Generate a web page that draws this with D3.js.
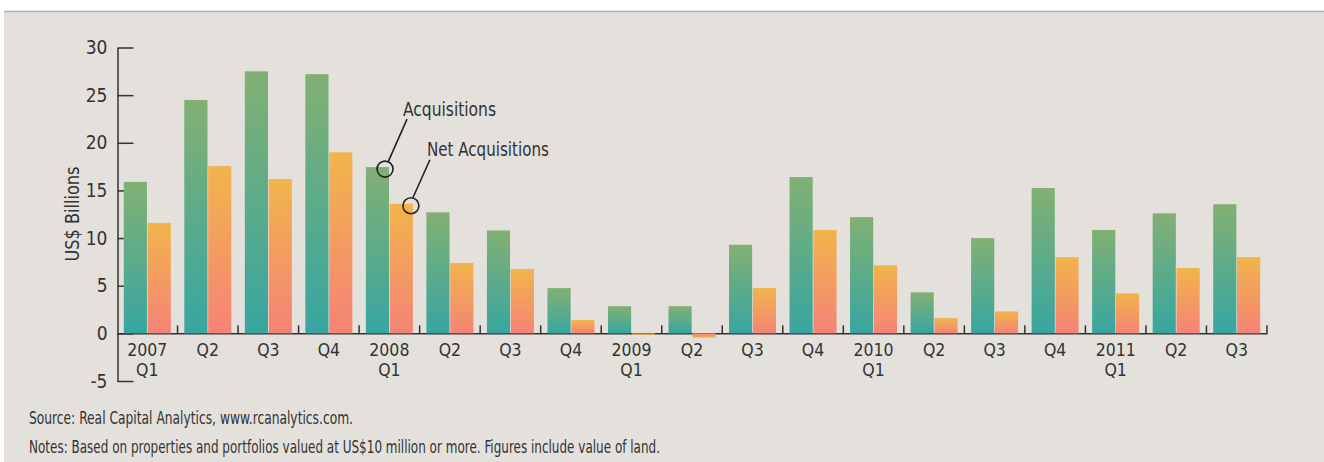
<!DOCTYPE html>
<html>
<head>
<meta charset="utf-8">
<script src="https://cdn.jsdelivr.net/npm/d3@7"></script>
<style>
  body { margin: 0; background: #fff; }
  svg text { font-family: "Liberation Sans Narrow", "Arial Narrow", "DejaVu Sans Condensed", sans-serif; fill: #333; }
</style>
</head>
<body>
<svg id="chart" width="1324" height="462"></svg>
<script>
// quarterly US commercial property investment, US$ billions
var quarters = ["2007 Q1","2007 Q2","2007 Q3","2007 Q4","2008 Q1","2008 Q2","2008 Q3","2008 Q4",
  "2009 Q1","2009 Q2","2009 Q3","2009 Q4","2010 Q1","2010 Q2","2010 Q3","2010 Q4","2011 Q1","2011 Q2","2011 Q3"];
var tickLabels = ["2007|Q1","Q2","Q3","Q4","2008|Q1","Q2","Q3","Q4","2009|Q1","Q2","Q3","Q4",
  "2010|Q1","Q2","Q3","Q4","2011|Q1","Q2","Q3"];
var acquisitions = [15.9, 24.5, 27.5, 27.2, 17.45, 12.7, 10.8, 4.75, 2.85, 2.85, 9.3, 16.4, 12.2, 4.3, 10.0, 15.25, 10.85, 12.6, 13.55];
var netAcquisitions = [11.6, 17.55, 16.2, 19.0, 13.6, 7.4, 6.75, 1.4, -0.15, -0.45, 4.75, 10.85, 7.15, 1.6, 2.3, 8.0, 4.2, 6.85, 8.0];
var yTicks = [-5, 0, 5, 10, 15, 20, 25, 30];
var seriesNames = ["Acquisitions", "Net Acquisitions"];

var svg = d3.select("#chart");

// panel background + top rule
svg.append("rect").attr("x", 4).attr("y", 12).attr("width", 1320).attr("height", 450).attr("fill", "#e4e1dd");
svg.append("line").attr("x1", 4).attr("x2", 1324).attr("y1", 11.5).attr("y2", 11.5)
  .attr("stroke", "#b3aea7").attr("stroke-width", 1.5);

var defs = svg.append("defs");
function grad(id, top, bottom) {
  var g = defs.append("linearGradient").attr("id", id).attr("x1", 0).attr("y1", 0).attr("x2", 0).attr("y2", 1);
  g.append("stop").attr("offset", "0%").attr("stop-color", top);
  g.append("stop").attr("offset", "100%").attr("stop-color", bottom);
}
grad("gGreen", "#82b073", "#37a6a1");
grad("gOrange", "#f1b54b", "#f58376");
grad("gOrangeNeg", "#f58376", "#f1b54b");

var x0 = d3.scaleBand().domain(quarters).range([117, 1267]).paddingInner(0.223).paddingOuter(0.112);
var x1 = d3.scaleBand().domain(seriesNames).range([0, x0.bandwidth()]).paddingInner(0.03);
var y = d3.scaleLinear().domain([-5, 30]).range([381, 47.5]);

var rows = quarters.map(function(q, i) {
  return { q: q, label: tickLabels[i], vals: [acquisitions[i], netAcquisitions[i]] };
});

// y axis
var yAxis = svg.append("g")
  .attr("transform", "translate(117.5,0)")
  .call(d3.axisLeft(y).tickValues(yTicks).tickSize(-16).tickPadding(10).tickSizeOuter(0)
    .tickFormat(function(d) { return String(d); }));
yAxis.attr("font-family", null);
yAxis.select(".domain").attr("stroke", "#333").attr("stroke-width", 1.5);
yAxis.selectAll(".tick line").attr("stroke", "#333").attr("stroke-width", 1.5);
yAxis.selectAll(".tick text").attr("font-size", "19px").attr("fill", "#333");

svg.append("text")
  .attr("transform", "translate(79,214) rotate(-90)")
  .attr("text-anchor", "middle")
  .attr("font-size", "20px")
  .attr("textLength", 95).attr("lengthAdjust", "spacingAndGlyphs")
  .text("US$ Billions");

// x axis line
var xAxis = svg.append("g")
  .attr("transform", "translate(0," + y(0) + ")")
  .call(d3.axisBottom(x0).tickSize(0).tickSizeOuter(0).tickFormat(""));
xAxis.attr("font-family", null);
xAxis.select(".domain").attr("stroke", "#333").attr("stroke-width", 1.5);

// separators between quarters
var step = x0.step();
function sep(d) { return x0(d) + x0.bandwidth() + (step - x0.bandwidth()) / 2; }
svg.selectAll(".qtick")
  .data(quarters)
  .enter().append("line")
  .attr("class", "qtick")
  .attr("x1", sep).attr("x2", sep)
  .attr("y1", y(0))
  .attr("y2", y(0) - 8)
  .attr("stroke", "#333").attr("stroke-width", 1.5);

// two-line quarter labels
rows.forEach(function(d) {
  d.label.split("|").forEach(function(p, k) {
    svg.append("text")
      .attr("class", "xlab")
      .attr("text-anchor", "middle")
      .attr("font-size", "17.5px")
      .attr("x", x0(d.q) + x0.bandwidth() / 2)
      .attr("y", 356 + k * 20)
      .text(p);
  });
});

// bars
var groups = svg.selectAll(".grp")
  .data(rows)
  .enter().append("g")
  .attr("class", "grp")
  .attr("transform", function(d) { return "translate(" + x0(d.q) + ",0)"; });

groups.selectAll("rect")
  .data(function(d) { return d.vals.map(function(v, k) { return { k: k, v: v }; }); })
  .enter().append("rect")
  .attr("x", function(d) { return x1(seriesNames[d.k]); })
  .attr("width", x1.bandwidth())
  .attr("y", function(d) { return d.v >= 0 ? y(d.v) : y(0); })
  .attr("height", function(d) { return Math.max(Math.abs(y(d.v) - y(0)), 1); })
  .attr("fill", function(d) {
    if (d.k === 0) return "url(#gGreen)";
    return d.v >= 0 ? "url(#gOrange)" : "url(#gOrangeNeg)";
  });

// callouts
function callout(q, k, cdx, lineFrom, lineTo, textPos, label, len) {
  var i = quarters.indexOf(q);
  var v = k === 0 ? acquisitions[i] : netAcquisitions[i];
  var cx = x0(q) + x1(seriesNames[k]) + x1.bandwidth() + cdx;
  var cy = y(v) + 2;
  svg.append("circle").attr("cx", cx).attr("cy", cy).attr("r", 8)
    .attr("fill", "none").attr("stroke", "#222").attr("stroke-width", 1.6);
  svg.append("line")
    .attr("x1", cx + lineFrom[0]).attr("y1", cy + lineFrom[1])
    .attr("x2", cx + lineTo[0]).attr("y2", cy + lineTo[1])
    .attr("stroke", "#222").attr("stroke-width", 1.6);
  svg.append("text").attr("x", cx + textPos[0]).attr("y", cy + textPos[1])
    .attr("font-size", "20px")
    .attr("textLength", len).attr("lengthAdjust", "spacingAndGlyphs")
    .text(label);
}
callout("2008 Q1", 0, -4, [3, -7], [22, -50], [18, -53], "Acquisitions", 93);
callout("2008 Q1", 1, -2, [2, -8], [19, -46], [16, -50], "Net Acquisitions", 122);

// footnotes
svg.append("text").attr("x", 29).attr("y", 424).attr("font-size", "18px")
  .attr("textLength", 324).attr("lengthAdjust", "spacingAndGlyphs")
  .text("Source: Real Capital Analytics, www.rcanalytics.com.");
svg.append("text").attr("x", 29).attr("y", 452.5).attr("font-size", "18px")
  .attr("textLength", 631).attr("lengthAdjust", "spacingAndGlyphs")
  .text("Notes: Based on properties and portfolios valued at US$10 million or more. Figures include value of land.");
</script>
</body>
</html>
